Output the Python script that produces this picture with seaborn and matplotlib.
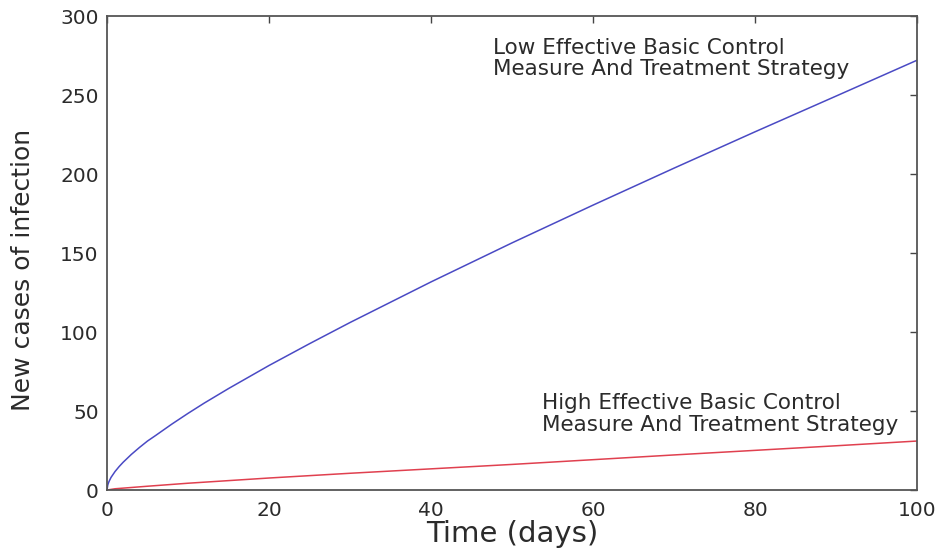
import numpy as np
import pandas as pd
import matplotlib
matplotlib.use("Agg")
import matplotlib.pyplot as plt
import seaborn as sns

# Nilai
days_low = [0, 0.1, 0.25, 0.5, 1, 1.5, 2, 3, 4, 5, 6, 8, 10, 12, 15, 20, 25, 30,
            40, 50, 60, 70, 80, 90, 100]
cases_low = [0, 3.3, 5.4, 8.0, 11.75, 14.85, 17.6, 22.5, 26.9, 31.0, 34.5, 41.7, 48.5,
             55.0, 64.2, 78.8, 92.6, 106.0, 131.7, 156.4, 180.3, 203.7, 226.7, 249.3, 272.0]

days_high = [0, 1, 5, 10, 20, 30, 40, 50, 60, 70, 80, 90, 100]
cases_high = [0, 0.8, 2.4, 4.3, 7.6, 10.6, 13.4, 16.2, 19.2, 22.2, 25.1, 28.0, 31.0]

label_low = "Low Effective Basic Control\nMeasure And Treatment Strategy"
label_high = "High Effective Basic Control\nMeasure And Treatment Strategy"

x_ticks = [0, 20, 40, 60, 80, 100]
y_ticks = [0, 50, 100, 150, 200, 250, 300]

sns.set_style("white")
plt.rcParams["font.family"] = ["DejaVu Sans"]
text_col = "#2b2b2b"

fig = plt.figure(figsize=(9.41, 5.48), dpi=100)
ax = fig.add_axes([0.1137, 0.1058, 0.8608, 0.865])

low_df = pd.DataFrame({"day": days_low, "cases": cases_low})
high_df = pd.DataFrame({"day": days_high, "cases": cases_high})
sns.lineplot(data=low_df, x="day", y="cases", color="#4a4ac4", linewidth=1.1, ax=ax)
sns.lineplot(data=high_df, x="day", y="cases", color="#e0404f", linewidth=1.1, ax=ax)

ax.set_xlim(0, 100)
ax.set_ylim(0, 300)
ax.set_xticks(x_ticks)
ax.set_yticks(y_ticks)
ax.tick_params(direction="in", length=5, width=1, color="#444444",
               top=True, right=True, labelsize=14.5, labelcolor=text_col)
ax.tick_params(axis="x", pad=8)
ax.tick_params(axis="y", pad=6)
for sp in ax.spines.values():
    sp.set_visible(True)
    sp.set_color("#555555")
    sp.set_linewidth(1.3)

ax.set_xlabel("Time (days)", fontsize=21, color=text_col, labelpad=0)
ax.set_ylabel("New cases of infection", fontsize=18, color=text_col)
ax.yaxis.set_label_coords(-0.089, 0.464)

ax.text(47.7, 273, label_low, fontsize=15.5, color=text_col, va="center", ha="left", linespacing=1.1)
ax.text(53.7, 48, label_high, fontsize=15.5, color=text_col, va="center", ha="left", linespacing=1.1)

fig.savefig("out.png", dpi=100)
